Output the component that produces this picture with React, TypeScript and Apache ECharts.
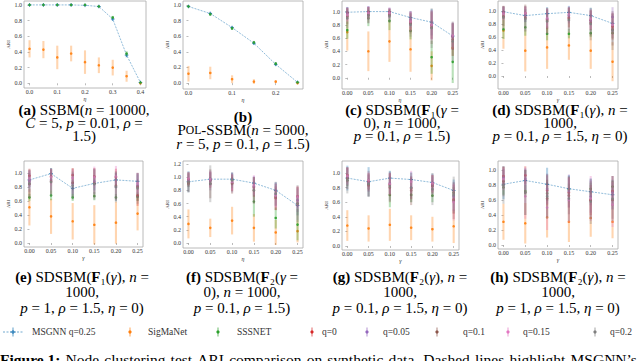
import React, { useEffect, useRef } from "react";
import * as echarts from "echarts";

const METHODS = ["MSGNN q=0.25", "SigMaNet", "SSSNET", "q=0", "q=0.05", "q=0.1", "q=0.15", "q=0.2"];
const COLORS = ["#1f77b4", "#ff7f0e", "#2ca02c", "#d62728", "#9467bd", "#8c564b", "#e377c2", "#7f7f7f"];

const ETA_A = [0, 0.05, 0.1, 0.15, 0.2, 0.25, 0.3, 0.35, 0.4];
const STEPS = [0, 0.05, 0.1, 0.15, 0.2, 0.25];
const X_TICKS_A = [0, 0.1, 0.2, 0.3, 0.4];
const X_TICKS_B = [0, 0.1, 0.2];
const X_TICKS_C = [0, 0.05, 0.1, 0.15, 0.2, 0.25];
const Y_TICKS = [0, 0.2, 0.4, 0.6, 0.8, 1.0];
const Y_TICKS_F = [0, 0.2, 0.4, 0.6, 0.8, 1.0, 1.2];

// rows: MSGNN, SigMaNet, SSSNET, q=0, q=0.05, q=0.1, q=0.15, q=0.2
const A_MEAN = [
  [1.0, 1.0, 1.0, 1.0, 0.995, 0.98, 0.82, 0.36, 0.01],
  [0.44, 0.43, 0.33, 0.38, 0.27, 0.23, 0.2, 0.09, 0.0],
  [1.0, 1.0, 1.0, 1.0, 1.0, 0.98, 0.84, 0.38, 0.01],
];
const A_ERR = [
  [0.003, 0.003, 0.003, 0.003, 0.005, 0.01, 0.02, 0.03, 0.01],
  [0.11, 0.11, 0.15, 0.1, 0.15, 0.1, 0.1, 0.07, 0.0],
  [0.003, 0.003, 0.003, 0.003, 0.003, 0.01, 0.02, 0.03, 0.01],
];
const B_MEAN = [
  [0.98, 0.89, 0.71, 0.51, 0.24, 0.01],
  [0.12, 0.13, 0.05, 0.02, 0.02, 0.0],
  [0.98, 0.88, 0.7, 0.52, 0.25, 0.01],
];
const B_ERR = [
  [0.01, 0.02, 0.02, 0.02, 0.02, 0.01],
  [0.1, 0.08, 0.05, 0.03, 0.02, 0.0],
  [0.01, 0.02, 0.02, 0.02, 0.02, 0.01],
];
const C_MEAN = [
  [0.99, 1.0, 1.0, 0.91, 0.84, 0.63],
  [0.69, 0.4, 0.55, 0.43, 0.18, 0.45],
  [0.72, 0.9, 0.86, 0.71, 0.31, 0.24],
  [0.98, 0.99, 0.99, 0.85, 0.79, 0.62],
  [0.97, 0.98, 0.98, 0.88, 0.8, 0.62],
  [0.93, 0.95, 0.95, 0.82, 0.76, 0.58],
  [0.95, 0.98, 0.98, 0.85, 0.8, 0.64],
  [0.9, 0.94, 0.93, 0.8, 0.75, 0.55],
];
const C_ERR = [
  [0.08, 0.08, 0.05, 0.1, 0.2, 0.2],
  [0.28, 0.3, 0.31, 0.34, 0.22, 0.12],
  [0.13, 0.12, 0.14, 0.13, 0.25, 0.32],
  [0.08, 0.08, 0.05, 0.15, 0.2, 0.2],
  [0.1, 0.1, 0.08, 0.12, 0.22, 0.2],
  [0.12, 0.12, 0.1, 0.15, 0.25, 0.25],
  [0.1, 0.1, 0.08, 0.15, 0.22, 0.2],
  [0.15, 0.12, 0.1, 0.18, 0.3, 0.3],
];
const D_MEAN = [
  [0.99, 0.93, 0.96, 0.98, 0.93, 0.81],
  [0.7, 0.39, 0.44, 0.47, 0.39, 0.22],
  [0.72, 0.75, 0.65, 0.65, 0.66, 0.66],
  [0.98, 0.97, 0.87, 0.9, 0.86, 0.76],
  [0.97, 0.95, 0.88, 0.93, 0.85, 0.91],
  [0.92, 0.9, 0.85, 0.88, 0.82, 0.72],
  [0.96, 0.97, 0.89, 0.95, 0.88, 0.79],
  [0.9, 0.88, 0.84, 0.86, 0.8, 0.7],
];
const D_ERR = [
  [0.08, 0.1, 0.1, 0.1, 0.12, 0.15],
  [0.28, 0.32, 0.33, 0.22, 0.28, 0.3],
  [0.15, 0.13, 0.1, 0.07, 0.06, 0.08],
  [0.1, 0.1, 0.15, 0.15, 0.15, 0.2],
  [0.1, 0.12, 0.15, 0.12, 0.15, 0.15],
  [0.15, 0.2, 0.2, 0.18, 0.2, 0.25],
  [0.1, 0.1, 0.15, 0.12, 0.15, 0.2],
  [0.18, 0.2, 0.2, 0.2, 0.25, 0.3],
];
const E_MEAN = [
  [0.9, 0.99, 0.78, 0.85, 0.9, 0.88],
  [0.51, 0.38, 0.31, 0.26, 0.29, 0.42],
  [0.65, 0.68, 0.65, 0.67, 0.65, 0.66],
  [0.96, 0.95, 0.97, 0.95, 0.94, 0.68],
  [0.88, 0.9, 0.85, 0.88, 0.8, 0.82],
  [0.84, 0.88, 0.86, 0.85, 0.82, 0.8],
  [0.92, 0.94, 0.93, 0.94, 0.95, 0.85],
  [0.85, 0.87, 0.82, 0.84, 0.8, 0.78],
];
const E_ERR = [
  [0.1, 0.08, 0.12, 0.1, 0.1, 0.1],
  [0.26, 0.25, 0.26, 0.28, 0.3, 0.24],
  [0.05, 0.07, 0.05, 0.06, 0.05, 0.06],
  [0.1, 0.1, 0.1, 0.12, 0.12, 0.15],
  [0.15, 0.15, 0.15, 0.18, 0.2, 0.18],
  [0.2, 0.18, 0.2, 0.2, 0.2, 0.2],
  [0.12, 0.12, 0.12, 0.15, 0.15, 0.15],
  [0.2, 0.2, 0.2, 0.22, 0.22, 0.22],
];
const F_MEAN = [
  [0.93, 0.97, 0.97, 0.91, 0.8, 0.57],
  [0.29, 0.23, 0.34, 0.23, 0.16, 0.18],
  [0.9, 0.95, 0.95, 0.63, 0.38, 0.28],
  [0.97, 0.96, 0.91, 0.85, 0.68, 0.71],
  [0.95, 0.95, 0.92, 0.86, 0.74, 0.65],
  [0.92, 0.9, 0.9, 0.8, 0.7, 0.6],
  [0.98, 0.97, 0.93, 0.88, 0.72, 0.7],
  [0.93, 0.9, 0.95, 0.8, 0.75, 0.6],
];
const F_ERR = [
  [0.16, 0.1, 0.1, 0.1, 0.12, 0.15],
  [0.22, 0.14, 0.21, 0.21, 0.19, 0.17],
  [0.05, 0.05, 0.05, 0.23, 0.16, 0.24],
  [0.1, 0.12, 0.12, 0.15, 0.18, 0.15],
  [0.1, 0.15, 0.15, 0.15, 0.18, 0.18],
  [0.15, 0.22, 0.15, 0.2, 0.2, 0.25],
  [0.1, 0.12, 0.12, 0.15, 0.18, 0.16],
  [0.15, 0.28, 0.12, 0.2, 0.18, 0.28],
];
const G_MEAN = [
  [0.93, 0.88, 0.93, 0.91, 0.87, 0.76],
  [0.28, 0.24, 0.29, 0.25, 0.23, 0.27],
  [0.9, 0.85, 0.7, 0.7, 0.69, 0.73],
  [0.97, 0.88, 0.84, 0.79, 0.85, 0.64],
  [0.95, 0.86, 0.86, 0.8, 0.83, 0.68],
  [0.93, 0.83, 0.8, 0.76, 0.82, 0.62],
  [0.96, 0.9, 0.85, 0.88, 0.86, 0.6],
  [0.9, 0.85, 0.82, 0.8, 0.78, 0.7],
];
const G_ERR = [
  [0.17, 0.2, 0.1, 0.1, 0.12, 0.15],
  [0.21, 0.18, 0.22, 0.17, 0.17, 0.23],
  [0.08, 0.07, 0.17, 0.1, 0.09, 0.08],
  [0.1, 0.12, 0.15, 0.15, 0.12, 0.2],
  [0.12, 0.12, 0.15, 0.15, 0.12, 0.2],
  [0.15, 0.15, 0.2, 0.2, 0.15, 0.25],
  [0.12, 0.12, 0.15, 0.15, 0.12, 0.25],
  [0.18, 0.18, 0.2, 0.2, 0.22, 0.25],
];
const H_MEAN = [
  [0.81, 0.86, 0.81, 0.75, 0.71, 0.67],
  [0.31, 0.29, 0.37, 0.31, 0.36, 0.31],
  [0.77, 0.72, 0.69, 0.74, 0.75, 0.78],
  [0.92, 0.93, 0.73, 0.7, 0.6, 0.72],
  [0.9, 0.88, 0.75, 0.72, 0.65, 0.7],
  [0.85, 0.7, 0.62, 0.66, 0.6, 0.6],
  [0.88, 0.65, 0.5, 0.6, 0.62, 0.54],
  [0.8, 0.7, 0.65, 0.62, 0.58, 0.62],
];
const H_ERR = [
  [0.2, 0.15, 0.22, 0.18, 0.18, 0.2],
  [0.24, 0.27, 0.27, 0.27, 0.25, 0.22],
  [0.1, 0.08, 0.1, 0.08, 0.08, 0.08],
  [0.12, 0.12, 0.2, 0.2, 0.2, 0.2],
  [0.15, 0.15, 0.2, 0.22, 0.22, 0.22],
  [0.2, 0.3, 0.25, 0.25, 0.25, 0.25],
  [0.15, 0.3, 0.3, 0.3, 0.3, 0.3],
  [0.25, 0.3, 0.3, 0.3, 0.3, 0.3],
];

const SERIF = "'Liberation Serif', 'Times New Roman', serif";
const CAP_FS = 15;
const FIG_FS = 15.5;
const CAP_DY = 2;

const CAP_A = ["{b|(a)} SSBM({i|n} = 10000,", "{i|C} = 5, {i|p} = 0.01, {i|ρ} =", "1.5)"];
const CAP_B = ["{b|(b)}", "P{sc|OL}-SSBM({i|n} = 5000,", "{i|r} = 5, {i|p} = 0.1, {i|ρ} = 1.5)"];
const CAP_C = ["{b|(c)} SDSBM({b|F}₁({i|γ} =", "0), {i|n} = 1000,", "{i|p} = 0.1, {i|ρ} = 1.5)"];
const CAP_D = ["{b|(d)} SDSBM({b|F}₁({i|γ}), {i|n} =", "1000,", "{i|p} = 0.1, {i|ρ} = 1.5, {i|η} = 0)"];
const CAP_E = ["{b|(e)} SDSBM({b|F}₁({i|γ}), {i|n} =", "1000,", "{i|p} = 1, {i|ρ} = 1.5, {i|η} = 0)"];
const CAP_F = ["{b|(f)} SDSBM({b|F}₂({i|γ} =", "0), {i|n} = 1000,", "{i|p} = 0.1, {i|ρ} = 1.5)"];
const CAP_G = ["{b|(g)} SDSBM({b|F}₂({i|γ}), {i|n} =", "1000,", "{i|p} = 0.1, {i|ρ} = 1.5, {i|η} = 0)"];
const CAP_H = ["{b|(h)} SDSBM({b|F}₂({i|γ}), {i|n} =", "1000,", "{i|p} = 1, {i|ρ} = 1.5, {i|η} = 0)"];
const FIG_WORDS = ["Node", "clustering", "test", "ARI", "comparison", "on", "synthetic", "data.", "Dashed", "lines", "highlight", "MSGNN’s"];
const FIG_CAPTION = "{fb|Figure 1:}\u200A " + FIG_WORDS.join(" \u200A");

const PANELS = [
  { xs: ETA_A, mean: A_MEAN, err: A_ERR, xTicks: X_TICKS_A, xDec: 1, yTicks: Y_TICKS, xName: "η", box: [24, 1, 122, 87], xr: [-0.02, 0.42], yr: [-0.06, 1.05], cap: CAP_A, capX: 84, capY: [108, 121, 134] },
  { xs: STEPS, mean: B_MEAN, err: B_ERR, xTicks: X_TICKS_B, xDec: 1, yTicks: Y_TICKS, xName: "η", box: [183, 1, 120, 88], xr: [-0.0125, 0.2625], yr: [-0.075, 1.05], cap: CAP_B, capX: 243, capY: [115, 128, 142] },
  { xs: STEPS, mean: C_MEAN, err: C_ERR, xTicks: X_TICKS_C, xDec: 2, yTicks: Y_TICKS, xName: "η", box: [342, 1, 116, 88], xr: [-0.0125, 0.2625], yr: [-0.17, 1.16], cap: CAP_C, capX: 402, capY: [108, 121, 134] },
  { xs: STEPS, mean: D_MEAN, err: D_ERR, xTicks: X_TICKS_C, xDec: 2, yTicks: Y_TICKS, xName: "γ", box: [498, 1, 120, 88], xr: [-0.0125, 0.2625], yr: [-0.2, 1.155], cap: CAP_D, capX: 560, capY: [108, 121, 134] },
  { xs: STEPS, mean: E_MEAN, err: E_ERR, xTicks: X_TICKS_C, xDec: 2, yTicks: Y_TICKS, xName: "γ", box: [24, 161, 119, 86], xr: [-0.0125, 0.2625], yr: [-0.057, 1.17], cap: CAP_E, capX: 82, capY: [275, 290, 306] },
  { xs: STEPS, mean: F_MEAN, err: F_ERR, xTicks: X_TICKS_C, xDec: 2, yTicks: Y_TICKS_F, xName: "η", box: [183, 161, 120, 87], xr: [-0.0125, 0.2625], yr: [-0.076, 1.246], cap: CAP_F, capX: 242, capY: [275, 290, 306] },
  { xs: STEPS, mean: G_MEAN, err: G_ERR, xTicks: X_TICKS_C, xDec: 2, yTicks: Y_TICKS, xName: "γ", box: [342, 161, 117, 89], xr: [-0.0125, 0.2625], yr: [-0.055, 1.164], cap: CAP_G, capX: 400, capY: [275, 290, 306] },
  { xs: STEPS, mean: H_MEAN, err: H_ERR, xTicks: X_TICKS_C, xDec: 2, yTicks: Y_TICKS, xName: "γ", box: [498, 161, 120, 88], xr: [-0.0125, 0.2625], yr: [-0.053, 1.12], cap: CAP_H, capX: 558, capY: [275, 290, 306] },
];

const LEGEND_POS = [
  { mx: 13, tx: 32 },
  { mx: 130, tx: 148 },
  { mx: 218, tx: 237 },
  { mx: 312, tx: 322 },
  { mx: 367, tx: 383 },
  { mx: 437, tx: 463 },
  { mx: 508, tx: 523 },
  { mx: 595, tx: 610 },
];

const RICH = {
  b: { fontFamily: SERIF, fontSize: CAP_FS, fontWeight: "bold", fill: "#000", color: "#000" },
  i: { fontFamily: SERIF, fontSize: CAP_FS, fontStyle: "italic", fill: "#000", color: "#000" },
  sc: { fontFamily: SERIF, fontSize: CAP_FS * 0.78, fill: "#000", color: "#000" },
  fb: { fontFamily: SERIF, fontSize: FIG_FS, fontWeight: "bold", fill: "#000", color: "#000" },
};

function errSeries(gi: number, xs: number[], mean: number[], err: number[], color: string, plus: boolean) {
  return {
    type: "custom",
    xAxisIndex: gi,
    yAxisIndex: gi,
    clip: true,
    encode: { x: 0, y: 1 },
    data: xs.map((x, j) => [x, mean[j], err[j]]),
    renderItem: (_params: any, api: any) => {
      const x = api.value(0);
      const m = api.value(1);
      const e = api.value(2);
      const p0 = api.coord([x, m - e]);
      const p1 = api.coord([x, m + e]);
      const c = api.coord([x, m]);
      const children: any[] = [
        {
          type: "line",
          shape: { x1: p0[0], y1: p0[1], x2: p1[0], y2: p1[1] },
          style: { stroke: color, lineWidth: 2.1, opacity: 0.33 },
        },
      ];
      if (plus) {
        children.push(
          { type: "line", shape: { x1: c[0] - 1.8, y1: c[1], x2: c[0] + 1.8, y2: c[1] }, style: { stroke: color, lineWidth: 0.9 } },
          { type: "line", shape: { x1: c[0], y1: c[1] - 1.8, x2: c[0], y2: c[1] + 1.8 }, style: { stroke: color, lineWidth: 0.9 } }
        );
      } else {
        children.push({ type: "circle", shape: { cx: c[0], cy: c[1], r: 1.3 }, style: { fill: color, opacity: 0.9 } });
      }
      return { type: "group", children };
    },
  };
}

function buildOption() {
  const grid: any[] = [];
  const xAxis: any[] = [];
  const yAxis: any[] = [];
  const series: any[] = [];
  const graphic: any[] = [];

  PANELS.forEach((p, gi) => {
    const [l, t, w, h] = p.box;
    grid.push({ left: l, top: t, width: w, height: h, show: true, borderColor: "#a8a8a8", borderWidth: 0.8, backgroundColor: "transparent" });
    xAxis.push({
      type: "value",
      gridIndex: gi,
      min: p.xr[0],
      max: p.xr[1],
      axisLine: { show: false },
      splitLine: { show: false },
      axisTick: { show: true, length: 2, customValues: p.xTicks, lineStyle: { color: "#777", width: 0.5 } },
      axisLabel: { customValues: p.xTicks, formatter: (v: number) => v.toFixed(p.xDec), fontSize: 6, fontFamily: SERIF, color: "#333", margin: 1 },
      name: p.xName,
      nameLocation: "middle",
      nameGap: 6.5,
      nameTextStyle: { fontSize: 6, fontFamily: SERIF, fontStyle: "italic", color: "#333" },
    });
    yAxis.push({
      type: "value",
      gridIndex: gi,
      min: p.yr[0],
      max: p.yr[1],
      axisLine: { show: false },
      splitLine: { show: false },
      axisTick: { show: true, length: 2, customValues: p.yTicks, lineStyle: { color: "#777", width: 0.5 } },
      axisLabel: { customValues: p.yTicks, formatter: (v: number) => v.toFixed(1), fontSize: 6, fontFamily: SERIF, color: "#333", margin: 2 },
      name: "ARI",
      nameLocation: "middle",
      nameGap: 12,
      nameTextStyle: { fontSize: 5, fontFamily: SERIF, color: "#333" },
    });
    // dashed MSGNN line
    series.push({
      type: "line",
      xAxisIndex: gi,
      yAxisIndex: gi,
      data: p.xs.map((x, j) => [x, p.mean[0][j]]),
      symbol: "none",
      lineStyle: { color: "#1f77b4", width: 0.9, type: [2, 1.2], opacity: 0.55 },
      z: 1,
    });
    p.mean.forEach((row, k) => {
      series.push(errSeries(gi, p.xs, row, p.err[k], COLORS[k], k === 0));
    });
    p.cap.forEach((line, k) => {
      graphic.push({
        type: "text",
        x: p.capX,
        y: p.capY[k] + CAP_DY,
        style: {
          text: line,
          rich: RICH,
          fontFamily: SERIF,
          fontSize: CAP_FS,
          fill: "#000",
          align: "center",
          textAlign: "center",
          verticalAlign: "middle",
          textVerticalAlign: "middle",
        },
      });
    });
  });

  // legend
  const ly = 332;
  METHODS.forEach((name, k) => {
    const pos = LEGEND_POS[k];
    const color = COLORS[k];
    if (k === 0) {
      graphic.push({ type: "line", shape: { x1: 3, y1: ly, x2: 23, y2: ly }, style: { stroke: color, lineWidth: 0.9, lineDash: [2, 1.5], opacity: 0.7 } });
      graphic.push({ type: "line", shape: { x1: pos.mx - 2.5, y1: ly, x2: pos.mx + 2.5, y2: ly }, style: { stroke: color, lineWidth: 1 } });
    }
    graphic.push({ type: "line", shape: { x1: pos.mx, y1: ly - 4.5, x2: pos.mx, y2: ly + 4.5 }, style: { stroke: color, lineWidth: 1.8, opacity: 0.4 } });
    if (k === 0) {
      graphic.push({ type: "line", shape: { x1: pos.mx, y1: ly - 2, x2: pos.mx, y2: ly + 2 }, style: { stroke: color, lineWidth: 1 } });
    } else {
      graphic.push({ type: "circle", shape: { cx: pos.mx, cy: ly, r: 1.6 }, style: { fill: color } });
    }
    graphic.push({
      type: "text",
      x: pos.tx,
      y: ly,
      style: { text: name, fontFamily: SERIF, fontSize: 9.5, fill: "#333", align: "left", textAlign: "left", verticalAlign: "middle", textVerticalAlign: "middle" },
    });
  });

  graphic.push({
    type: "text",
    x: 0,
    y: 359,
    style: {
      text: FIG_CAPTION,
      rich: RICH,
      fontFamily: SERIF,
      fontSize: FIG_FS,
      fill: "#000",
      align: "left",
      textAlign: "left",
      verticalAlign: "middle",
      textVerticalAlign: "middle",
    },
  });

  return { animation: false, backgroundColor: "#fff", grid, xAxis, yAxis, series, graphic };
}

export default function App() {
  const ref = useRef<HTMLDivElement>(null);
  useEffect(() => {
    if (!ref.current) return;
    const chart = echarts.init(ref.current, undefined, { renderer: "svg" });
    chart.setOption(buildOption() as any);
    return () => chart.dispose();
  }, []);
  return <div ref={ref} style={{ position: "absolute", left: 0, top: 0, width: 640, height: 361 }} />;
}
